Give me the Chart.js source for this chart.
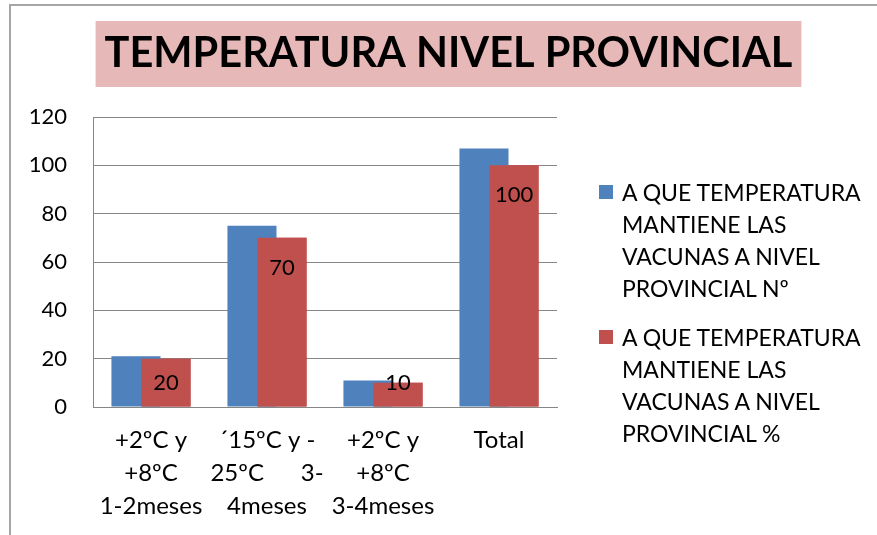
<!DOCTYPE html>
<html>
<head>
<meta charset="utf-8">
<script src="https://cdn.jsdelivr.net/npm/chart.js@4/dist/chart.umd.min.js"></script>
<style>
    body { margin: 0; background: #fff; }
    #wrap { position: relative; width: 877px; height: 535px; overflow: hidden; font-family: Lato, sans-serif; }
    #frame { position: absolute; left: 9px; top: 4px; right: -5px; bottom: -5px; border-left: 2px solid #a6a6a6; border-top: 2px solid #a6a6a6; }
    #chart { position: absolute; left: 0; top: 0; }
    #legend { position: absolute; left: 599px; top: 176px; }
    .item { display: flex; align-items: flex-start; margin-bottom: 17px; }
    .box { width: 14px; height: 14px; margin-top: 9px; margin-right: 9px; flex: none; }
    .txt { width: 246px; font-size: 23px; line-height: 32px; color: #000; }
</style>
</head>
<body>
<div id="wrap">
    <div id="frame"></div>
    <canvas id="chart" width="877" height="535"></canvas>
    <div id="legend"></div>
</div>
<script>
const title = 'TEMPERATURA NIVEL PROVINCIAL';
const categories = [
    ['+2ºC y', '+8ºC', '1-2meses'],
    ['´15ºC y -', '25ºC      3-', '4meses'],
    ['+2ºC y', '+8ºC', '3-4meses'],
    'Total'
];
const seriesNames = [
    'A QUE TEMPERATURA MANTIENE LAS VACUNAS A NIVEL PROVINCIAL Nº',
    'A QUE TEMPERATURA MANTIENE LAS VACUNAS A NIVEL PROVINCIAL %'
];
const countValues = [21, 75, 11, 107];
const percentValues = [20, 70, 10, 100];
const seriesColors = ['#4F81BD', '#C0504D'];
const yTicks = [0, 20, 40, 60, 80, 100, 120];

const gridColor = '#868686';
const font = 'Lato, sans-serif';

// pink box behind the title
const titleBackground = {
    id: 'titleBackground',
    beforeDraw(chart) {
        const t = chart.titleBlock;
        const opts = chart.options.plugins.title;
        const ctx = chart.ctx;
        ctx.save();
        ctx.font = Chart.helpers.toFont(opts.font).string;
        const w = ctx.measureText(title).width;
        const cx = (t.left + t.right) / 2;
        const top = t.top + opts.padding.top;
        const bottom = t.bottom - opts.padding.bottom;
        ctx.fillStyle = '#E6B9B8';
        ctx.fillRect(cx - w / 2 - 9, top, w + 18, bottom - top);
        ctx.restore();
    }
};

// red bars sit in front of the blue ones, with their values written inside
const frontBarsAndLabels = {
    id: 'frontBarsAndLabels',
    afterDatasetsDraw(chart) {
        const meta = chart.getDatasetMeta(1);
        meta.controller.draw();
        const ctx = chart.ctx;
        ctx.save();
        ctx.font = '22px ' + font;
        ctx.fillStyle = '#000';
        ctx.textAlign = 'center';
        ctx.textBaseline = 'middle';
        meta.data.forEach((bar, i) => {
            const h = bar.base - bar.y;
            const y = h >= 30 ? bar.y + Math.min(30, h / 2) : bar.y;
            ctx.fillText(String(percentValues[i]), bar.x, y);
        });
        ctx.restore();
    }
};

const htmlLegend = {
    id: 'htmlLegend',
    afterUpdate(chart) {
        const el = document.getElementById('legend');
        el.innerHTML = '';
        chart.data.datasets.forEach(ds => {
            const item = document.createElement('div');
            item.className = 'item';
            const box = document.createElement('div');
            box.className = 'box';
            box.style.background = ds.backgroundColor;
            const txt = document.createElement('div');
            txt.className = 'txt';
            txt.textContent = ds.label;
            item.appendChild(box);
            item.appendChild(txt);
            el.appendChild(item);
        });
    }
};

new Chart(document.getElementById('chart'), {
    type: 'bar',
    data: {
        labels: categories,
        datasets: [
            { label: seriesNames[0], data: countValues, backgroundColor: seriesColors[0] },
            { label: seriesNames[1], data: percentValues, backgroundColor: seriesColors[1] }
        ]
    },
    options: {
        responsive: false,
        animation: false,
        categoryPercentage: 0.518,
        barPercentage: 1.633,
        layout: { padding: { left: 20, top: 1, right: 0, bottom: 0 } },
        plugins: {
            legend: { display: false },
            tooltip: { enabled: false },
            title: {
                display: true,
                text: title,
                color: '#000',
                font: { family: font, size: 41.5, weight: 'bold', lineHeight: '66px' },
                padding: { top: 20, bottom: 30 }
            }
        },
        scales: {
            x: {
                grid: { display: false },
                border: { display: true, color: gridColor, width: 1 },
                ticks: {
                    color: '#000',
                    font: { family: font, size: 24, lineHeight: '33px' },
                    padding: 9,
                    maxRotation: 0,
                    autoSkip: false
                },
                afterFit(scale) { scale.height = 128; }
            },
            y: {
                min: 0,
                max: 120,
                afterBuildTicks(scale) { scale.ticks = yTicks.map(v => ({ value: v })); },
                grid: { color: gridColor, lineWidth: 1, drawTicks: false },
                border: { display: true, color: gridColor, width: 1 },
                ticks: {
                    color: '#000',
                    font: { family: font, size: 22 },
                    padding: 26
                },
                afterFit(scale) { scale.width = 73; }
            },
            // empty axis that only keeps room on the right for the legend
            y2: {
                position: 'right',
                grid: { display: false },
                border: { display: false },
                ticks: { display: false },
                afterFit(scale) { scale.width = 320; }
            }
        }
    },
    plugins: [titleBackground, frontBarsAndLabels, htmlLegend]
});
</script>
</body>
</html>
